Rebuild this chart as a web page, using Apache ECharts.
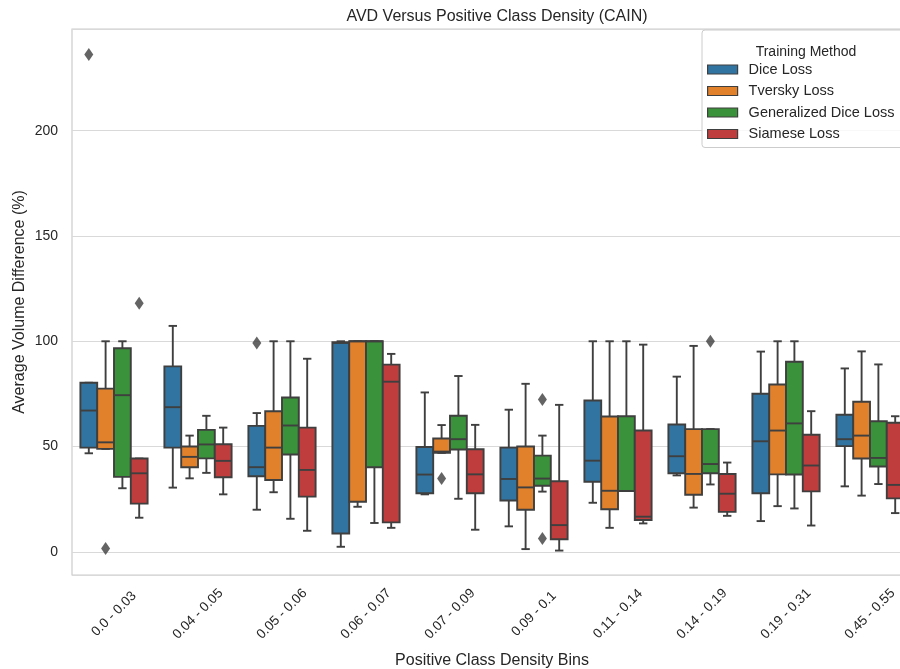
<!DOCTYPE html>
<html>
<head>
<meta charset="utf-8">
<script src="https://cdn.jsdelivr.net/npm/echarts@6/dist/echarts.min.js"></script>
<style>
  html, body { margin: 0; padding: 0; background: #fff; }
  #chart { width: 900px; height: 669px; }
</style>
</head>
<body>
<div id="chart"></div>
<script>
// density bins on the x axis
const categories = ['0.0 - 0.03', '0.04 - 0.05', '0.05 - 0.06', '0.06 - 0.07', '0.07 - 0.09',
  '0.09 - 0.1', '0.11 - 0.14', '0.14 - 0.19', '0.19 - 0.31', '0.45 - 0.55'];

const methods = ['Dice Loss', 'Tversky Loss', 'Generalized Dice Loss', 'Siamese Loss'];

// each row: [low whisker, Q1, median, Q3, high whisker]
const diceLoss = [
  [46.8, 49.5, 67.1, 80.3, 80.3],
  [30.5, 49.5, 68.7, 88.1, 107.3],
  [20.0, 35.9, 40.2, 59.8, 65.9],
  [2.4, 8.7, 99.2, 99.5, 100],
  [27.3, 27.8, 36.7, 49.8, 75.7],
  [12.1, 24.4, 34.6, 49.5, 67.5],
  [23.3, 33.3, 43.3, 71.9, 100],
  [36.3, 37.3, 45.4, 60.5, 83.2],
  [14.6, 27.8, 52.5, 75.1, 95.1],
  [31.1, 50.2, 53.5, 65.1, 87.1]
];
const tverskyLoss = [
  [48.9, 48.9, 52.0, 77.5, 100],
  [34.9, 40.2, 45.1, 50.0, 55.2],
  [28.3, 34.1, 49.5, 66.8, 100],
  [21.4, 23.8, 100, 100, 100],
  [47.0, 47.0, 47.6, 53.8, 60.2],
  [1.3, 20.0, 30.6, 50.0, 79.8],
  [11.4, 20.2, 29.0, 64.3, 100],
  [21.0, 27.1, 37.0, 58.3, 97.8],
  [21.7, 36.8, 57.6, 79.5, 100],
  [26.7, 44.3, 55.2, 71.3, 95.2]
];
const generalizedDiceLoss = [
  [30.2, 35.6, 74.4, 96.7, 100],
  [37.5, 44.4, 51.0, 57.9, 64.6],
  [15.7, 46.2, 60.0, 73.3, 100],
  [13.7, 40.2, 100, 100, 100],
  [25.2, 48.6, 53.5, 64.6, 83.5],
  [28.6, 31.4, 34.8, 45.7, 55.2],
  [28.9, 28.9, 28.9, 64.4, 100],
  [32.0, 37.3, 41.7, 58.3, 58.3],
  [20.6, 36.7, 61.0, 90.3, 100],
  [32.2, 40.5, 44.6, 62.0, 89.0]
];
const siameseLoss = [
  [16.2, 22.9, 37.3, 44.3, 44.3],
  [27.3, 35.4, 43.2, 51.1, 59.0],
  [10.0, 26.2, 38.9, 59.0, 91.7],
  [11.4, 14.0, 80.8, 88.9, 94.0],
  [10.5, 27.8, 36.8, 48.7, 60.3],
  [0.6, 6.0, 12.7, 33.5, 69.8],
  [13.5, 15.1, 16.7, 57.6, 98.4],
  [17.1, 19.0, 27.6, 37.0, 42.4],
  [12.5, 28.7, 41.0, 55.6, 66.8],
  [18.4, 25.4, 31.8, 61.3, 64.4]
];

// outliers: [bin index, value]
const diceOutliers = [[0, 236.2], [2, 99.2]];
const tverskyOutliers = [[0, 1.6], [4, 34.8]];
const generalizedOutliers = [[5, 72.4], [5, 6.3], [7, 100]];
const siameseOutliers = [[0, 118.1]];

const boxStats = [diceLoss, tverskyLoss, generalizedDiceLoss, siameseLoss];
const outliers = [diceOutliers, tverskyOutliers, generalizedOutliers, siameseOutliers];
const colors = ['#3274a1', '#e1812c', '#3a923a', '#c03d3e'];

const EDGE = '#3f3f3f';
const FONT = 'Liberation Sans';
const GRID_W = 840;
const BAND = GRID_W / categories.length;
const BOX_W = BAND * 0.8 / methods.length;

const chart = echarts.init(document.getElementById('chart'));

// seaborn-like box: half-width caps, median line in edge colour
function boxRenderer(hue) {
  return function (params, api) {
    const cat = api.value(0);
    const band = api.size([1, 0])[0];
    const w = band * 0.8 / methods.length;
    const cx = api.coord([cat, 0])[0] + (hue - 1.5) * w;
    const y = (i) => api.coord([cat, api.value(i)])[1];
    const yLow = y(1), yQ1 = y(2), yMed = y(3), yQ3 = y(4), yHigh = y(5);
    const line = { stroke: EDGE, lineWidth: 1.9 };
    return {
      type: 'group',
      children: [
        { type: 'line', shape: { x1: cx, y1: yQ1, x2: cx, y2: yLow }, style: line },
        { type: 'line', shape: { x1: cx, y1: yQ3, x2: cx, y2: yHigh }, style: line },
        { type: 'line', shape: { x1: cx - w / 4, y1: yLow, x2: cx + w / 4, y2: yLow }, style: line },
        { type: 'line', shape: { x1: cx - w / 4, y1: yHigh, x2: cx + w / 4, y2: yHigh }, style: line },
        {
          type: 'rect',
          shape: { x: cx - w / 2, y: yQ3, width: w, height: yQ1 - yQ3 },
          style: { fill: colors[hue], stroke: EDGE, lineWidth: 1.9 }
        },
        { type: 'line', shape: { x1: cx - w / 2, y1: yMed, x2: cx + w / 2, y2: yMed }, style: line }
      ]
    };
  };
}

const series = [];
methods.forEach((name, k) => {
  series.push({
    name: name,
    type: 'custom',
    renderItem: boxRenderer(k),
    itemStyle: { color: colors[k], borderColor: EDGE, borderWidth: 1.5 },
    encode: { x: 0, y: [1, 2, 3, 4, 5] },
    data: boxStats[k].map((row, i) => [i].concat(row))
  });
});
methods.forEach((name, k) => {
  series.push({
    name: name + ' outliers',
    type: 'scatter',
    symbol: 'diamond',
    symbolSize: [9, 13],
    symbolOffset: [(k - 1.5) * BOX_W, 0],
    itemStyle: { color: '#3d3d3d' },
    z: 5,
    data: outliers[k]
  });
});

const option = {
  backgroundColor: '#ffffff',
  animation: false,
  textStyle: { fontFamily: FONT },
  title: [
    {
      text: 'AVD Versus Positive Class Density (CAIN)',
      left: 492,
      top: 4,
      textAlign: 'center',
      textStyle: { fontFamily: FONT, fontSize: 16, fontWeight: 'normal', color: '#262626' }
    },
    {
      text: 'Training Method',
      left: 801,
      top: 40,
      textAlign: 'center',
      z: 10,
      textStyle: { fontFamily: FONT, fontSize: 14, fontWeight: 'normal', color: '#262626' }
    }
  ],
  legend: {
    data: methods,
    orient: 'vertical',
    left: 702,
    top: 30,
    padding: [32, 30, 6, 5],
    itemGap: 6.5,
    itemWidth: 30,
    itemHeight: 9,
    icon: 'rect',
    borderColor: '#cccccc',
    borderWidth: 1,
    borderRadius: 3,
    backgroundColor: 'rgba(255,255,255,0.8)',
    itemStyle: { borderColor: EDGE, borderWidth: 1.2 },
    textStyle: { fontFamily: FONT, fontSize: 14.5, color: '#262626', padding: [0, 0, 0, 6] }
  },
  grid: {
    left: 72,
    top: 29,
    width: GRID_W,
    height: 546,
    outerBoundsMode: 'none',
    containLabel: false,
    show: true,
    borderColor: '#cccccc',
    borderWidth: 1.2,
    backgroundColor: 'transparent'
  },
  xAxis: {
    type: 'category',
    data: categories,
    name: 'Positive Class Density Bins',
    nameLocation: 'middle',
    nameGap: 78,
    nameMoveOverlap: false,
    nameTextStyle: { fontFamily: FONT, fontSize: 16, color: '#262626' },
    axisLine: { show: false },
    axisTick: { show: false },
    splitLine: { show: false },
    axisLabel: {
      rotate: 45,
      align: 'center',
      verticalAlign: 'middle',
      margin: 39,
      fontFamily: FONT,
      fontSize: 13.5,
      color: '#262626'
    }
  },
  yAxis: {
    type: 'value',
    min: -11,
    max: 248.3,
    splitNumber: 5,
    name: 'Average Volume Difference (%)',
    nameLocation: 'middle',
    nameGap: 44,
    nameMoveOverlap: false,
    nameTextStyle: { fontFamily: FONT, fontSize: 16, color: '#262626' },
    axisLine: { show: false },
    axisTick: { show: false },
    splitLine: { lineStyle: { color: '#d9d9d9', width: 1.2 } },
    axisLabel: {
      showMinLabel: false,
      showMaxLabel: false,
      margin: 14,
      fontFamily: FONT,
      fontSize: 14,
      color: '#262626'
    }
  },
  series: series
};

chart.setOption(option);
</script>
</body>
</html>
